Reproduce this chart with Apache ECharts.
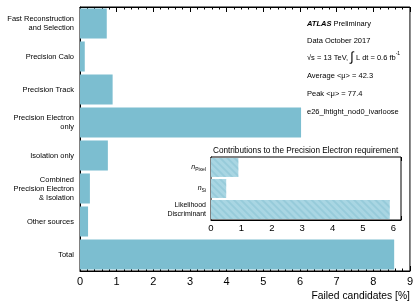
<!DOCTYPE html>
<html><head><meta charset="utf-8">
<script src="https://cdn.jsdelivr.net/npm/echarts@6/dist/echarts.min.js"></script>
<style>html,body{margin:0;padding:0;background:#fff}#c{width:416px;height:301px}</style>
</head><body><div id="c"></div>
<script>
var categories = ["Fast Reconstruction\nand Selection","Precision Calo","Precision Track","Precision Electron\nonly","Isolation only","Combined\nPrecision Electron\n& Isolation","Other sources","Total"];
var values = [0.73,0.13,0.89,6.03,0.76,0.27,0.22,8.57];
var insetCategories = ["nPixel","nSi","Likelihood\nDiscriminant"];
var insetValues = [0.90,0.50,5.88];
var mainTicks = [0,1,2,3,4,5,6,7,8,9];
var insetTicks = [0,1,2,3,4,5,6];

var chart = echarts.init(document.getElementById('c'), null, {renderer:'canvas'});
var F = 'Liberation Sans, Arial, Helvetica, sans-serif';
var tickCommon = function(len){return {show:true,inside:true,length:len,lineStyle:{color:'#000',width:1}};};
var option = {
  animation:false,
  textStyle:{fontFamily:F},
  grid:[
    {left:80,right:3,top:7,bottom:30,show:true,borderColor:'#000',borderWidth:1,containLabel:false},
    {left:211,right:15,top:157,bottom:81,show:true,borderColor:'#000',borderWidth:1,backgroundColor:'#fff',containLabel:false,z:5}
  ],
  xAxis:[
    {gridIndex:0,type:'value',min:0,max:9,interval:1,position:'bottom',
     axisLine:{show:true,lineStyle:{color:'#000'}},
     axisTick:tickCommon(5),minorTick:{show:true,splitNumber:5,length:2.5,lineStyle:{color:'#000'}},
     splitLine:{show:false},minorSplitLine:{show:false},
     axisLabel:{fontSize:11,color:'#000',margin:5,fontFamily:F,formatter:function(v){return mainTicks.indexOf(v)>=0?String(v):'';}},
     name:'Failed candidates [%]',nameLocation:'end',nameGap:0,
     nameTextStyle:{fontSize:10.3,color:'#000',align:'right',verticalAlign:'top',padding:[20,0,0,0]}},
    {gridIndex:0,type:'value',min:0,max:9,interval:1,position:'top',
     axisLine:{show:true,lineStyle:{color:'#000'}},
     axisTick:tickCommon(5),minorTick:{show:true,splitNumber:5,length:2.5,lineStyle:{color:'#000'}},
     splitLine:{show:false},axisLabel:{show:false}},
    {gridIndex:1,type:'value',min:0,max:6.25,interval:1,position:'bottom',
     axisLine:{show:true,lineStyle:{color:'#000'}},
     axisTick:tickCommon(4),minorTick:{show:true,splitNumber:5,length:2,lineStyle:{color:'#000'}},
     splitLine:{show:false},
     axisLabel:{fontSize:9.5,color:'#000',margin:3,fontFamily:F,formatter:function(v){return insetTicks.indexOf(v)>=0?String(v):'';}}},
    {gridIndex:1,type:'value',min:0,max:6.25,interval:1,position:'top',
     axisLine:{show:true,lineStyle:{color:'#000'}},
     axisTick:tickCommon(4),minorTick:{show:true,splitNumber:5,length:2,lineStyle:{color:'#000'}},
     splitLine:{show:false},axisLabel:{show:false}}
  ],
  yAxis:[
    {gridIndex:0,type:'category',data:categories,inverse:true,
     axisLine:{show:true,lineStyle:{color:'#000'}},axisTick:{show:false},
     axisLabel:{fontSize:7.5,lineHeight:9,color:'#000',margin:6,align:'right',fontFamily:F}},
    {gridIndex:1,type:'category',data:insetCategories,inverse:true,
     axisLine:{show:true,lineStyle:{color:'#000'}},axisTick:{show:false},
     axisLabel:{fontSize:7,lineHeight:8.5,color:'#000',margin:5,align:'right',fontFamily:F,
       formatter:function(v){
         if(v==='nPixel') return '{n|n}{s|Pixel}';
         if(v==='nSi') return '{n|n}{s|Si}';
         return v;
       },
       rich:{n:{fontSize:7,fontStyle:'italic',color:'#000',fontFamily:F},s:{fontSize:5,color:'#000',verticalAlign:'bottom',padding:[4,0,0,0],fontFamily:F}}}}
  ],
  series:[
    {type:'bar',xAxisIndex:0,yAxisIndex:0,data:values,barCategoryGap:'9%',
     itemStyle:{color:'#7cbed0'},silent:true},
    {type:'bar',xAxisIndex:2,yAxisIndex:1,data:insetValues,barCategoryGap:'10%',z:6,
     itemStyle:{color:'#a9d6e3',decal:{symbol:'rect',color:'rgba(125,188,206,0.4)',dashArrayX:[1,0],dashArrayY:[1.2,3],rotation:Math.PI/4}},silent:true}
  ],
  graphic:[
    {type:'text',left:307,top:20,style:{text:'{b|ATLAS} Preliminary',fontSize:7.5,fill:'#000',fontFamily:F,
      rich:{b:{fontWeight:'bold',fontStyle:'italic',fontSize:7.5,fontFamily:F}}}},
    {type:'text',left:307,top:37,style:{text:'Data October 2017',fontSize:7.5,fill:'#000',fontFamily:F}},
    {type:'text',left:307,top:51,style:{text:'√s = 13 TeV, {i|∫} L dt = 0.6 fb{u|-1}',fontSize:7.5,fill:'#000',fontFamily:F,
      rich:{i:{fontSize:13,fontFamily:F},u:{fontSize:5,verticalAlign:'top',padding:[0,0,5,0],fontFamily:F}}}},
    {type:'text',left:307,top:72,style:{text:'Average <μ> = 42.3',fontSize:7.5,fill:'#000',fontFamily:F}},
    {type:'text',left:307,top:90,style:{text:'Peak <μ> = 77.4',fontSize:7.5,fill:'#000',fontFamily:F}},
    {type:'text',left:307,top:108,style:{text:'e26_lhtight_nod0_ivarloose',fontSize:7.5,fill:'#000',fontFamily:F}},
    {type:'text',left:213,top:147,z:10,style:{text:'Contributions to the Precision Electron requirement',fontSize:8.2,fill:'#000',fontFamily:F}}
  ]
};
chart.setOption(option);
</script></body></html>
